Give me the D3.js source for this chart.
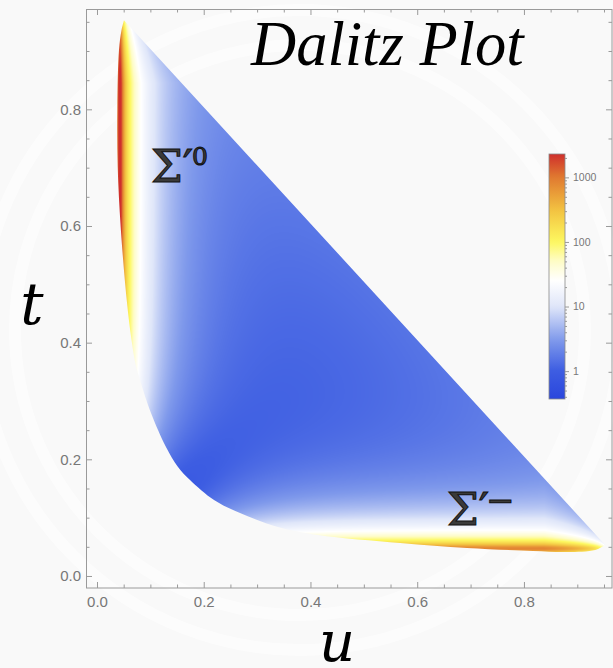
<!DOCTYPE html>
<html>
<head>
<meta charset="utf-8">
<script src="https://cdn.jsdelivr.net/npm/d3@7"></script>
<style>
    body { margin: 0; background: #fafafa; }
    svg { display: block; }
</style>
</head>
<body>
<div id="chart"></div>
<script>
// axis ticks
let uTicks = [0, 0.2, 0.4, 0.6, 0.8];
let tTicks = [0, 0.2, 0.4, 0.6, 0.8];
let minorTicks = [0.05, 0.1, 0.15, 0.25, 0.3, 0.35, 0.45, 0.5, 0.55, 0.65, 0.7, 0.75, 0.85, 0.9, 0.95];

// lower-left edge of the dalitz region (top tip -> right tip)
let edgeU = [0.0506, 0.0459, 0.0412, 0.0381, 0.0388, 0.0444, 0.0557, 0.0647, 0.0731, 0.0806, 0.1012, 0.1293, 0.1518, 0.1743, 0.2193, 0.2680, 0.3393, 0.4143, 0.5680, 0.6935, 0.8172, 0.8810, 0.9335, 0.9522];
let edgeT = [0.9529, 0.9357, 0.9015, 0.8021, 0.7010, 0.5981, 0.4730, 0.4045, 0.3599, 0.3359, 0.2793, 0.2211, 0.1868, 0.1645, 0.1302, 0.1080, 0.0840, 0.0703, 0.0566, 0.0480, 0.0428, 0.0411, 0.0446, 0.0531];

// the two resonance bands (Σ′0 along u, Σ′− along t)
let resMass = [0.043, 0.047];
let resWidth = [0.0036, 0.0054];
let resPeak = [3000, 850];
let resEnd = [0.975, 0.958];   // band fades out towards the tips
let resFade = [0.13, 0.12];
let resOnset = [0.27, 0.27];   // band weakens towards the lower-left corner

// smooth background level (base, rise towards u+t=1)
let bgBase = 0.33;
let bgRise = 0.9;

// colour bar
let cbValues = [0.37, 1, 3, 10, 25, 50, 100, 300, 1000, 2300];
let cbColors = ["#2a46dc", "#3d5de2", "#7f99eb", "#dfe6f9", "#ffffff", "#fefcc8", "#fdf860", "#f3c442", "#e07a30", "#cf2f2c"];
let cbTicks = [1, 10, 100, 1000];
let cbMinor = [0.4, 0.5, 0.6, 0.7, 0.8, 0.9, 2, 3, 4, 5, 6, 7, 8, 9, 20, 30, 40, 50, 60, 70, 80, 90, 200, 300, 400, 500, 600, 700, 800, 900, 2000];

let width = 613;
let height = 668;

//frame of the plot
let frameL = 86, frameR = 612, frameT = 9, frameB = 588;

let x = d3.scaleLinear().domain([-0.0206, 0.965]).range([frameL, frameR]);
let y = d3.scaleLinear().domain([-0.0206, 0.972]).range([frameB, frameT]);

let color = d3.scaleLog()
    .domain(cbValues)
    .range(cbColors)
    .interpolate(d3.interpolateRgb)
    .clamp(true);

let svg = d3.select("#chart").append("svg")
    .attr("width", width)
    .attr("height", height);

//faint swirls in the background
svg.append("rect")
    .attr("width", width)
    .attr("height", height)
    .attr("fill", "#f9f9f9");

[[300, 330, 285], [300, 330, 320]].forEach(function(c) {
    svg.append("circle")
        .attr("cx", c[0])
        .attr("cy", c[1])
        .attr("r", c[2])
        .attr("fill", "none")
        .attr("stroke", "#ffffff")
        .attr("stroke-opacity", 0.55)
        .attr("stroke-width", 12);
});

function clip01(v) {
    return Math.min(1, Math.max(0, v));
}

function band(k, along, other) {
    let z = (along - resMass[k]) / resWidth[k];
    let o4 = Math.pow(other, 4);
    let onset = o4 / (o4 + Math.pow(resOnset[k], 4));
    let fade = clip01((resEnd[k] - other) / resFade[k]);
    return resPeak[k] / (1 + z * z) * onset * fade;
}

function density(u, t) {
    let d = bgBase + bgRise * Math.pow(Math.max(0, u + t), 3);
    d += band(0, u, t);
    d += band(1, t, u);
    return d;
}

//colour lookup table
let lutSize = 1024;
let logMin = Math.log10(cbValues[0]);
let logMax = Math.log10(cbValues[cbValues.length - 1]);
let lut = [];
for (let i = 0; i < lutSize; i++) {
    let v = Math.pow(10, logMin + (logMax - logMin) * i / (lutSize - 1));
    let c = d3.rgb(color(v));
    lut.push([c.r, c.g, c.b]);
}

//paint the density into a canvas
let cw = frameR - frameL;
let ch = frameB - frameT;
let canvas = document.createElement("canvas");
canvas.width = cw;
canvas.height = ch;
let ctx = canvas.getContext("2d");
let img = ctx.createImageData(cw, ch);

for (let j = 0; j < ch; j++) {
    let t = y.invert(frameT + j + 0.5);
    for (let i = 0; i < cw; i++) {
        let u = x.invert(frameL + i + 0.5);
        let k = (j * cw + i) * 4;
        if (u + t > 1.02 || u < 0.02 || t < 0.02) {
            img.data[k + 3] = 0;
            continue;
        }
        let lv = Math.log10(density(u, t));
        let idx = Math.round((lv - logMin) / (logMax - logMin) * (lutSize - 1));
        idx = Math.max(0, Math.min(lutSize - 1, idx));
        img.data[k] = lut[idx][0];
        img.data[k + 1] = lut[idx][1];
        img.data[k + 2] = lut[idx][2];
        img.data[k + 3] = 255;
    }
}
ctx.putImageData(img, 0, 0);

//region outline: curved lower-left edge, closed by the straight kinematic line
let edgePts = edgeU.map(function(u, i) { return [u, edgeT[i]]; });
let regionPath = d3.line()
    .x(function(d) { return x(d[0]); })
    .y(function(d) { return y(d[1]); })
    .curve(d3.curveCatmullRom.alpha(0.5))(edgePts) + "Z";

let defs = svg.append("defs");
defs.append("clipPath")
    .attr("id", "region")
    .append("path")
    .attr("d", regionPath);

svg.append("image")
    .attr("x", frameL)
    .attr("y", frameT)
    .attr("width", cw)
    .attr("height", ch)
    .attr("preserveAspectRatio", "none")
    .attr("href", canvas.toDataURL())
    .attr("clip-path", "url(#region)");

//frame
svg.append("rect")
    .attr("x", frameL + 0.5)
    .attr("y", frameT + 0.5)
    .attr("width", frameR - frameL - 0.5)
    .attr("height", frameB - frameT - 0.5)
    .attr("fill", "none")
    .attr("stroke", "#9a9a9a")
    .attr("stroke-width", 1);

function styleAxis(g) {
    g.select(".domain").remove();
    g.selectAll("line").attr("stroke", "#9a9a9a");
    g.selectAll("text")
        .attr("fill", "#777")
        .style("font-family", "'Liberation Sans', Arial, sans-serif")
        .style("font-size", "15px");
}

//major + minor ticks on all four sides
svg.append("g")
    .attr("transform", `translate(0,${frameB})`)
    .call(d3.axisBottom(x).tickValues(uTicks).tickFormat(d3.format(".1f")).tickSize(-6).tickPadding(8))
    .call(styleAxis);
svg.append("g")
    .attr("transform", `translate(0,${frameB})`)
    .call(d3.axisBottom(x).tickValues(minorTicks).tickFormat("").tickSize(-3.5))
    .call(styleAxis);
svg.append("g")
    .attr("transform", `translate(0,${frameT})`)
    .call(d3.axisTop(x).tickValues(uTicks).tickFormat("").tickSize(-6))
    .call(styleAxis);
svg.append("g")
    .attr("transform", `translate(0,${frameT})`)
    .call(d3.axisTop(x).tickValues(minorTicks).tickFormat("").tickSize(-3.5))
    .call(styleAxis);

svg.append("g")
    .attr("transform", `translate(${frameL},0)`)
    .call(d3.axisLeft(y).tickValues(tTicks).tickFormat(d3.format(".1f")).tickSize(-6).tickPadding(5))
    .call(styleAxis);
svg.append("g")
    .attr("transform", `translate(${frameL},0)`)
    .call(d3.axisLeft(y).tickValues(minorTicks).tickFormat("").tickSize(-3.5))
    .call(styleAxis);
svg.append("g")
    .attr("transform", `translate(${frameR},0)`)
    .call(d3.axisRight(y).tickValues(tTicks).tickFormat("").tickSize(-6))
    .call(styleAxis);
svg.append("g")
    .attr("transform", `translate(${frameR},0)`)
    .call(d3.axisRight(y).tickValues(minorTicks).tickFormat("").tickSize(-3.5))
    .call(styleAxis);

//colour bar
let cbX = 549, cbW = 16;
let cb = d3.scaleLog().domain([cbValues[0], cbValues[cbValues.length - 1]]).range([399, 154]);

let grad = defs.append("linearGradient")
    .attr("id", "cbgrad")
    .attr("x1", 0).attr("y1", 1)
    .attr("x2", 0).attr("y2", 0);
for (let i = 0; i <= 60; i++) {
    let v = Math.pow(10, logMin + (logMax - logMin) * i / 60);
    grad.append("stop")
        .attr("offset", `${i / 60 * 100}%`)
        .attr("stop-color", color(v));
}

svg.append("rect")
    .attr("x", cbX)
    .attr("y", cb.range()[1])
    .attr("width", cbW)
    .attr("height", cb.range()[0] - cb.range()[1])
    .attr("fill", "url(#cbgrad)")
    .attr("stroke", "#8a8a8a")
    .attr("stroke-width", 0.8);

svg.append("g")
    .attr("transform", `translate(${cbX + cbW},0)`)
    .call(d3.axisRight(cb).tickValues(cbTicks).tickFormat(d3.format("d")).tickSize(4).tickPadding(4))
    .call(styleAxis)
    .selectAll("text")
    .style("font-size", "10.5px");
svg.append("g")
    .attr("transform", `translate(${cbX + cbW},0)`)
    .call(d3.axisRight(cb).tickValues(cbMinor).tickFormat("").tickSize(2))
    .call(styleAxis);

//title
svg.append("text")
    .attr("x", 251)
    .attr("y", 65)
    .style("font-family", "'Liberation Serif', 'Times New Roman', serif")
    .style("font-style", "italic")
    .style("font-size", "62.5px")
    .attr("fill", "#000")
    .text("Dalitz Plot");

//axis labels
svg.append("text")
    .attr("x", 32)
    .attr("y", 324)
    .attr("text-anchor", "middle")
    .style("font-family", "'DejaVu Serif', serif")
    .style("font-style", "italic")
    .style("font-size", "58px")
    .text("t");

svg.append("text")
    .attr("x", 337)
    .attr("y", 661)
    .attr("text-anchor", "middle")
    .style("font-family", "'DejaVu Serif', serif")
    .style("font-style", "italic")
    .style("font-size", "56px")
    .text("u");

//resonance labels, one text each with the superscript as a relative tspan
function sigmaLabel(xs, base, sup, supDx, supDy, supSize) {
    let txt = svg.append("text")
        .attr("x", xs)
        .attr("y", base)
        .attr("fill", "#3a3a3a")
        .attr("stroke", "#111")
        .attr("stroke-width", 1)
        .style("font-family", "'DejaVu Serif', serif")
        .style("font-size", "45px");
    txt.append("tspan").text("Σ′");
    txt.append("tspan")
        .attr("dx", supDx)
        .attr("dy", supDy)
        .style("font-size", `${supSize}px`)
        .text(sup);
}

sigmaLabel(151, 182, "0", -1, -17, 25);
sigmaLabel(447, 525, "−", -3, -13, 34);
</script>
</body>
</html>
